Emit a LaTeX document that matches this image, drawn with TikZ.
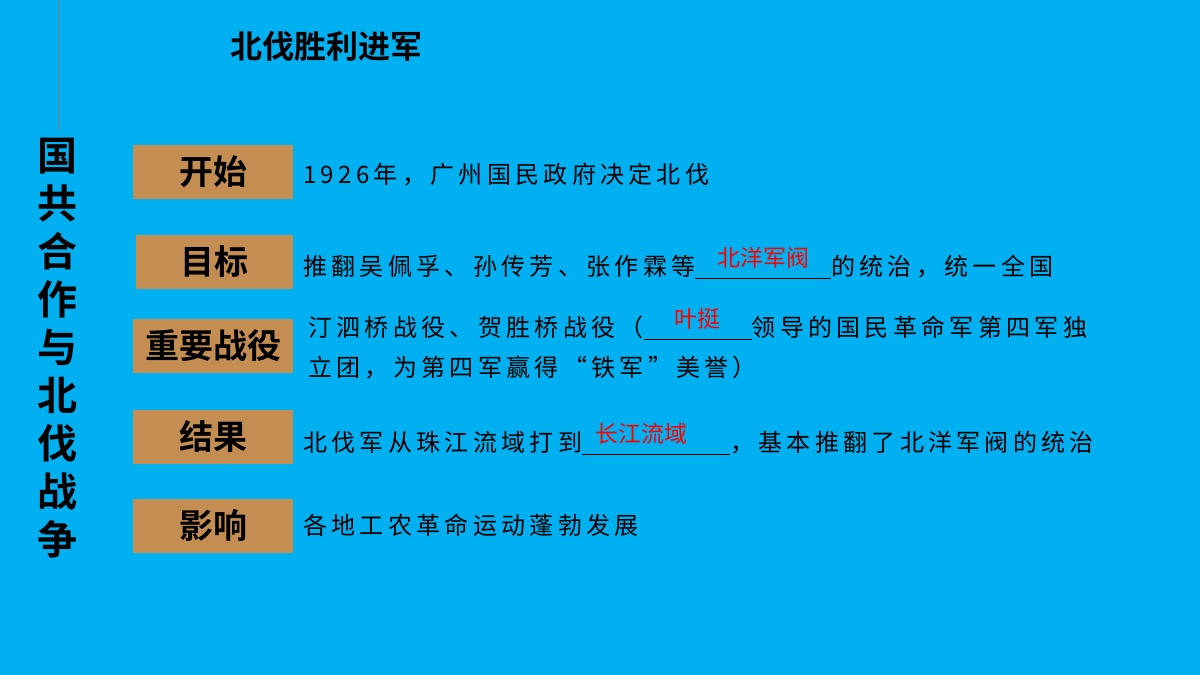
\documentclass[tikz,border=0pt]{standalone}
\usepackage{fontspec}
\setmainfont{Noto Sans CJK SC}[LetterSpace=18]
\newfontfamily\cjkb{Noto Sans CJK SC Bold}
\newfontfamily\cjkr{Noto Sans CJK SC}
\definecolor{bg}{HTML}{00B0F0}
\definecolor{tan}{HTML}{C48E52}
\newcommand\blankans[3][0pt]{\makebox[#2][c]{\hspace*{#1}\raisebox{9pt}{\cjkr\color{red}\fontsize{23}{23}\selectfont #3}}\llap{\rule[-3pt]{#2}{0.6pt}}}
\begin{document}
\begin{tikzpicture}[x=1pt,y=-1pt,
  lab/.style={fill=tan,minimum width=160pt,minimum height=54pt,font=\cjkb\fontsize{34}{34}\selectfont,inner sep=0},
  txt/.style={anchor=west,font=\fontsize{24}{40}\selectfont,inner sep=0,align=left}]
\fill[bg] (0,0) rectangle (1200,675);
\useasboundingbox (0,0) rectangle (1200,675);
\draw[gray,line width=1pt] (58,0) -- (58,130);
\node[font=\cjkb\fontsize{32}{32}\selectfont,anchor=center] (t) at (326,46) {北伐胜利进军};
\node[font=\cjkb\fontsize{40}{48}\selectfont,align=center,inner sep=0] (v) at (57,348) {国\\共\\合\\作\\与\\北\\伐\\战\\争};
\node[lab] (a) at (213,172) {开始};
\node[lab,minimum width=157pt] (b) at (214.5,261.5) {目标};
\node[lab] (c) at (213,346) {重要战役};
\node[lab] (d) at (213,436.5) {结果};
\node[lab] (e) at (213,525.5) {影响};
\node[txt] (a1) at (303,175) {1926年，广州国民政府决定北伐};
\node[txt] (b1) at (303,263) {推翻吴佩孚、孙传芳、张作霖等\blankans{136pt}{北洋军阀}的统治，统一全国};
\node[txt] (c1) at (308,344) {汀泗桥战役、贺胜桥战役（\blankans{108pt}{叶挺}领导的国民革命军第四军独\\立团，为第四军赢得“铁军”美誉）};
\node[txt] (d1) at (303,439) {北伐军从珠江流域打到\blankans[-30pt]{148pt}{长江流域}，基本推翻了北洋军阀的统治};
\node[txt] (e1) at (303,525) {各地工农革命运动蓬勃发展};
\end{tikzpicture}
\end{document}
